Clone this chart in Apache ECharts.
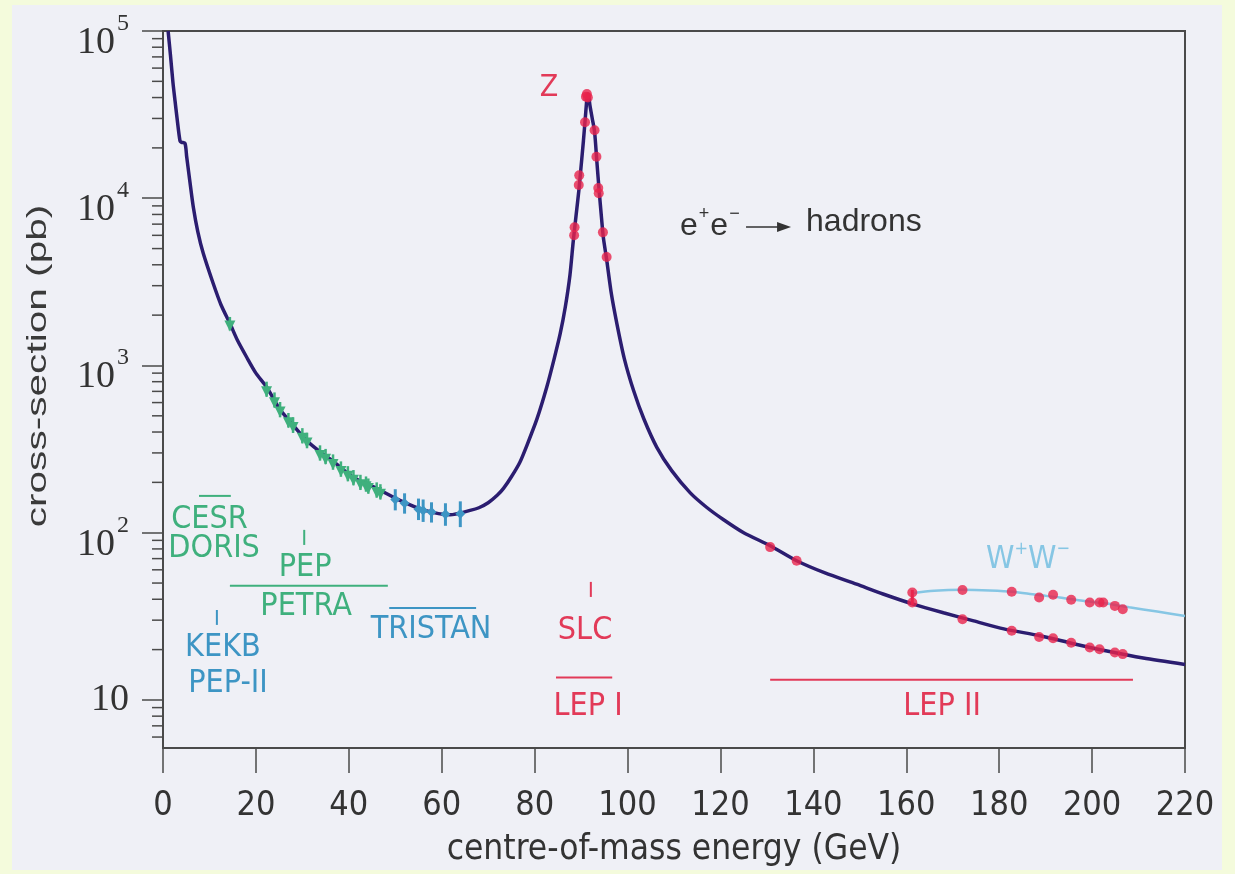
<!DOCTYPE html>
<html>
<head>
<meta charset="utf-8">
<script src="https://cdn.jsdelivr.net/npm/echarts@6/dist/echarts.min.js"></script>
<style>
  html, body { margin: 0; padding: 0; background: #f4fbdc; }
  #chart { width: 1235px; height: 874px; }
</style>
</head>
<body>
<div id="chart"></div>
<script>
// e+e- -> hadrons cross-section (pb) against centre-of-mass energy (GeV)

// x-axis range and tick step (GeV)
const xRange = [0, 220];
const xStep = 20;

// y-axis range (pb, log scale)
const yRange = [5.16, 100000];

// minor tick values on the log axis
const yMinorTicks = [
  6, 7, 8, 9,
  20, 30, 40, 50, 60, 70, 80, 90,
  200, 300, 400, 500, 600, 700, 800, 900,
  2000, 3000, 4000, 5000, 6000, 7000, 8000, 9000,
  20000, 30000, 40000, 50000, 60000, 70000, 80000, 90000
];

// theory curve: [energy GeV, cross-section pb]
const hadronCurve = [
  [1.1, 100000], [1.6, 72000], [2.15, 49000], [2.6, 38000], [3.0, 30500],
  [3.66, 22000], [4.0, 21600], [4.74, 21300], [5.1, 17700], [5.8, 12500],
  [6.52, 8870], [7.5, 6300], [8.68, 4670], [10.83, 3080], [12.5, 2300],
  [14.42, 1780], [16.0, 1420], [18.02, 1120], [20.0, 900], [22.33, 741],
  [25.2, 545], [28.0, 440], [30.9, 356], [33.8, 305], [36.6, 268],
  [40.9, 215], [46.0, 184], [51.0, 156], [56.0, 137], [61.8, 128],
  [66.1, 136], [68.0, 141], [70.0, 151], [72.0, 168], [73.3, 184],
  [75.0, 216], [76.8, 263], [78.3, 331], [80.5, 479], [82.6, 741],
  [84.2, 1096], [85.5, 1549], [86.6, 2239], [87.6, 3467], [88.3, 5495],
  [88.9, 7800], [89.5, 11000], [90.0, 15500], [90.5, 22000], [90.9, 30000],
  [91.2, 38000], [91.4, 42000], [91.6, 41500], [91.9, 36000], [92.4, 30000],
  [92.9, 25000], [93.4, 16500], [93.9, 11000], [94.4, 7600], [94.8, 5800],
  [95.5, 4300], [96.5, 2700], [97.7, 1780], [99.3, 1100], [101.3, 708],
  [103.5, 480], [106.3, 324], [109.5, 235], [113.5, 173], [117.0, 142],
  [120.6, 120], [125.0, 100], [130.7, 83.6], [136.4, 68], [142.5, 57.5],
  [149.3, 49.2], [155.0, 43], [161.5, 37.4], [168.0, 33.2], [174.5, 29.7],
  [181.0, 26.6], [188.8, 24.2], [196.0, 21.7], [203.2, 19.6], [211.0, 17.8],
  [220.0, 16.3]
];

// curve including W-pair production above threshold
const wwCurve = [
  [161.3, 43.5], [166.0, 45.0], [172.1, 45.6], [178.0, 45.2], [183.0, 44.4],
  [188.0, 42.5], [193.0, 41.0], [198.0, 39.2], [203.0, 37.7], [208.0, 35.8],
  [214.0, 33.8], [220.0, 31.8]
];

// low-energy measurements (CESR, DORIS, PEP, PETRA): [GeV, pb, low, high]
const petraData = [
  [14.4, 1780, 1620, 1950], [22.3, 720, 650, 800], [24.0, 620, 560, 690],
  [25.2, 545, 490, 605], [27.0, 470, 425, 520], [28.0, 440, 395, 490],
  [30.0, 380, 342, 422], [31.0, 356, 320, 396], [33.8, 300, 270, 333],
  [35.0, 285, 257, 317], [36.6, 265, 238, 294], [38.3, 240, 216, 267],
  [39.8, 225, 203, 250], [41.0, 213, 192, 237], [42.5, 200, 180, 222],
  [43.7, 195, 176, 217], [44.2, 190, 171, 211], [46.0, 180, 162, 200],
  [46.8, 176, 158, 195]
];

// TRISTAN measurements: [GeV, pb, low, high]
const tristanData = [
  [50.0, 158, 136, 182], [52.0, 150, 130, 172], [55.0, 138, 119, 160],
  [56.0, 136, 116, 158], [57.8, 133, 115, 152], [60.8, 129, 110, 150],
  [64.0, 130, 108, 154]
];

// LEP I / SLC measurements around the Z pole: [GeV, pb]
const zPoleData = [
  [88.5, 6000], [88.6, 6700], [89.5, 12000], [89.6, 13700], [90.85, 28500],
  [91.05, 40500], [91.25, 42000], [91.45, 40000], [92.9, 25500],
  [93.3, 17700], [93.7, 11500], [93.8, 10700], [94.7, 6250], [95.5, 4450]
];

// LEP II hadronic measurements: [GeV, pb]
const lep2Hadrons = [
  [130.7, 82], [136.4, 68], [161.3, 38.3], [172.1, 30.4], [182.7, 25.9],
  [188.6, 23.8], [191.6, 23.4], [195.5, 22.0], [199.5, 20.6], [201.6, 20.1],
  [204.9, 19.2], [206.6, 18.8]
];

// LEP II measurements including W pairs: [GeV, pb]
const lep2WW = [
  [161.3, 43.9], [172.1, 45.4], [182.7, 44.4], [188.6, 41.0], [191.6, 42.6],
  [195.5, 39.7], [199.5, 38.3], [201.6, 38.3], [202.4, 38.3], [204.9, 36.5],
  [206.6, 34.9]
];

// vertical error bar at the W-pair threshold: [GeV, low, high]
const thresholdBar = [[161.3, 37.0, 45.5]];

// ---------------------------------------------------------------
const GREEN = '#3fb07d';
const BLUE = '#3d95c4';
const RED = '#e23a58';
const PINK = '#e8244c';
const NAVY = '#2b1d70';
const SKY = '#86c6e4';
const INK = '#333';
const NARROW = '"Liberation Sans Narrow", "DejaVu Sans Condensed", "Liberation Sans", sans-serif';
const SANS = '"Liberation Sans", Arial, sans-serif';
const SERIF = '"Liberation Serif", "DejaVu Serif", serif';

// accelerator labels, placed in data coordinates
const labels = [
  { text: 'Z', x: 83.1, y: 45600, color: RED, size: 30 },
  { text: 'CESR', x: 10.0, y: 119, color: GREEN, size: 32 },
  { text: 'DORIS', x: 11.0, y: 80, color: GREEN, size: 32 },
  { text: 'PEP', x: 30.6, y: 61.5, color: GREEN, size: 32 },
  { text: 'PETRA', x: 30.8, y: 36.0, color: GREEN, size: 32 },
  { text: 'KEKB', x: 12.9, y: 20.5, color: BLUE, size: 32 },
  { text: 'PEP-II', x: 14.0, y: 12.5, color: BLUE, size: 32 },
  { text: 'TRISTAN', x: 57.7, y: 26.2, color: BLUE, size: 32 },
  { text: 'SLC', x: 90.85, y: 25.9, color: RED, size: 32 },
  { text: 'LEP I', x: 91.5, y: 9.08, color: RED, size: 32 },
  { text: 'LEP II', x: 167.7, y: 9.08, color: RED, size: 32 },
  { text: '{w|W}{s|+}{w|W}{s|\u2212}', x: 186.2, y: 72.6, color: SKY, size: 32 }
];

// energy-range bars and markers: [[x1, y1], [x2, y2], colour]
const rangeMarks = [
  [[7.75, 166], [14.6, 166], GREEN],
  [[30.4, 104], [30.4, 84.5], GREEN],
  [[14.4, 48.1], [48.4, 48.1], GREEN],
  [[11.6, 34.5], [11.6, 28.1], BLUE],
  [[48.7, 35.5], [67.4, 35.5], BLUE],
  [[92.1, 50.8], [92.1, 41.3], RED],
  [[84.6, 13.6], [96.7, 13.6], RED],
  [[130.7, 13.2], [208.8, 13.2], RED]
];

const chart = echarts.init(document.getElementById('chart'), null, { renderer: 'canvas' });

function errorMarker(color, shape) {
  return function (params, api) {
    const x = api.value(0);
    const c = api.coord([x, api.value(1)]);
    const lo = api.coord([x, api.value(2)]);
    const hi = api.coord([x, api.value(3)]);
    const children = [{
      type: 'line',
      shape: { x1: c[0], y1: lo[1], x2: c[0], y2: hi[1] },
      style: { stroke: color, lineWidth: shape === 'tri' ? 2.5 : 3 }
    }];
    if (shape === 'tri') {
      children.push({
        type: 'polygon',
        shape: { points: [[c[0] - 5.5, c[1] - 3], [c[0] + 5.5, c[1] - 3], [c[0], c[1] + 8]] },
        style: { fill: color }
      });
    } else {
      children.push({
        type: 'polygon',
        shape: { points: [[c[0], c[1] - 5], [c[0] + 5, c[1]], [c[0], c[1] + 5], [c[0] - 5, c[1]]] },
        style: { fill: color }
      });
    }
    return { type: 'group', children: children };
  };
}

const option = {
  backgroundColor: '#f4fbdc',
  animation: false,
  graphic: [
    {
      type: 'rect', z: -10, silent: true,
      shape: { x: 12, y: 5, width: 1210, height: 865 },
      style: { fill: '#eff0f6' }
    },
    {
      // y-axis title
      type: 'text', silent: true, x: 38, y: 366, rotation: Math.PI / 2, scaleX: 1.45,
      style: {
        text: 'cross-section (pb)', fill: '#3a3a3a', align: 'center', verticalAlign: 'middle',
        fontFamily: SANS, fontSize: 28
      }
    }
  ],
  grid: {
    left: 163, right: 50, top: 31, bottom: 126,
    show: true, borderColor: '#4a4a4a', borderWidth: 2, backgroundColor: 'transparent'
  },
  xAxis: {
    type: 'value', min: xRange[0], max: xRange[1], interval: xStep,
    axisLine: { onZero: false, lineStyle: { color: '#4a4a4a', width: 2 } },
    axisTick: { length: 25, lineStyle: { color: '#4a4a4a', width: 1.5 } },
    splitLine: { show: false },
    axisLabel: { margin: 41, color: INK, fontSize: 34, fontFamily: NARROW },
    name: 'centre-of-mass energy (GeV)',
    nameLocation: 'middle', nameGap: 84,
    nameTextStyle: { color: INK, fontSize: 35, fontFamily: NARROW }
  },
  yAxis: {
    type: 'log', logBase: 10, min: yRange[0], max: yRange[1],
    axisLine: { lineStyle: { color: '#4a4a4a', width: 2 } },
    axisTick: { length: 21, lineStyle: { color: '#4a4a4a', width: 1.5 } },
    splitLine: { show: false },
    axisLabel: {
      showMinLabel: false, margin: 34, color: INK,
      formatter: function (v) {
        const e = Math.round(Math.log10(v));
        if (e === 1) return '{one|10}';
        return '{b|10}{s|' + e + '}';
      },
      rich: {
        one: { fontFamily: SERIF, fontSize: 38, color: INK },
        b: { fontFamily: SERIF, fontSize: 38, lineHeight: 38, padding: [24, 0, 0, 0], color: INK },
        s: { fontFamily: SERIF, fontSize: 24, lineHeight: 36, padding: [0, 0, 15, 2], color: INK }
      }
    }
  },
  series: [
    {
      // minor ticks of the log axis, drawn outside the plot frame
      type: 'custom', name: 'minor ticks', silent: true, clip: false,
      data: yMinorTicks.map(v => [xRange[0], v]),
      renderItem: function (params, api) {
        const p = api.coord([api.value(0), api.value(1)]);
        return {
          type: 'line',
          shape: { x1: p[0] - 11, y1: p[1], x2: p[0], y2: p[1] },
          style: { stroke: '#4a4a4a', lineWidth: 1.5 }
        };
      }
    },
    {
      type: 'line', name: 'W+W-', data: wwCurve, smooth: 0.3, showSymbol: false,
      lineStyle: { color: SKY, width: 2.5 }, z: 3
    },
    {
      type: 'line', name: 'e+e- -> hadrons', data: hadronCurve, smooth: 0.25,
      showSymbol: false, lineStyle: { color: NAVY, width: 3.5 }, z: 4
    },
    {
      type: 'custom', name: 'PETRA/PEP', data: petraData, z: 5,
      renderItem: errorMarker(GREEN, 'tri')
    },
    {
      type: 'custom', name: 'TRISTAN', data: tristanData, z: 5,
      renderItem: errorMarker(BLUE, 'dia')
    },
    {
      type: 'custom', name: 'threshold bar', data: thresholdBar, z: 5,
      renderItem: function (params, api) {
        const lo = api.coord([api.value(0), api.value(1)]);
        const hi = api.coord([api.value(0), api.value(2)]);
        return { type: 'line', shape: { x1: lo[0], y1: lo[1], x2: hi[0], y2: hi[1] },
          style: { stroke: PINK, lineWidth: 3 } };
      }
    },
    {
      type: 'scatter', name: 'LEP I', data: zPoleData, symbolSize: 10, z: 6,
      itemStyle: { color: PINK }
    },
    {
      type: 'scatter', name: 'LEP II', data: lep2Hadrons, symbolSize: 10, z: 6,
      itemStyle: { color: PINK }
    },
    {
      type: 'scatter', name: 'LEP II WW', data: lep2WW, symbolSize: 10, z: 6,
      itemStyle: { color: PINK }
    },
    {
      // accelerator energy ranges
      type: 'custom', name: 'ranges', silent: true, clip: false, z: 5,
      data: rangeMarks.map(m => [m[0][0], m[0][1], m[1][0], m[1][1]]),
      renderItem: function (params, api) {
        const a = api.coord([api.value(0), api.value(1)]);
        const b = api.coord([api.value(2), api.value(3)]);
        return { type: 'line', shape: { x1: a[0], y1: a[1], x2: b[0], y2: b[1] },
          style: { stroke: rangeMarks[params.dataIndex][2], lineWidth: 2 } };
      }
    },
    {
      // text annotations
      type: 'custom', name: 'labels', silent: true, clip: false, z: 7,
      data: labels.map(l => [l.x, l.y]),
      renderItem: function (params, api) {
        const l = labels[params.dataIndex];
        const p = api.coord([api.value(0), api.value(1)]);
        return {
          type: 'text', x: p[0], y: p[1],
          style: {
            text: l.text, fill: l.color, align: 'center', verticalAlign: 'middle',
            fontFamily: NARROW, fontSize: l.size,
            rich: {
              w: { fontFamily: NARROW, fontSize: l.size, fill: l.color, lineHeight: 32, padding: [8, 0, 0, 0] },
              s: { fontFamily: NARROW, fontSize: 18, fill: l.color, lineHeight: 20, padding: [0, 0, 14, 0] }
            }
          }
        };
      }
    },
    {
      // process label: e+e- -> hadrons
      type: 'custom', name: 'process', silent: true, clip: false, z: 7,
      data: [[111.3, 7210]],
      renderItem: function (params, api) {
        const p = api.coord([api.value(0), api.value(1)]);
        const x = p[0], y = p[1];
        return {
          type: 'group',
          children: [
            {
              type: 'text', x: x, y: y,
              style: {
                text: '{e|e}{s|+}{e|e}{s|\u2212}', align: 'left', verticalAlign: 'middle',
                rich: {
                  e: { fontFamily: SANS, fontSize: 32, fill: INK, lineHeight: 32, padding: [8, 0, 0, 0] },
                  s: { fontFamily: SANS, fontSize: 18, fill: INK, lineHeight: 20, padding: [0, 1, 16, 1] }
                }
              }
            },
            {
              type: 'line', shape: { x1: x + 66, y1: y + 5, x2: x + 100, y2: y + 5 },
              style: { stroke: INK, lineWidth: 1.5 }
            },
            {
              type: 'polygon', shape: { points: [[x + 97, y], [x + 111, y + 5], [x + 97, y + 10]] },
              style: { fill: INK }
            },
            {
              type: 'text', x: x + 126, y: y,
              style: {
                text: 'hadrons', align: 'left', verticalAlign: 'middle',
                fontFamily: SANS, fontSize: 32, fill: INK
              }
            }
          ]
        };
      }
    }
  ]
};

chart.setOption(option);
</script>
</body>
</html>
